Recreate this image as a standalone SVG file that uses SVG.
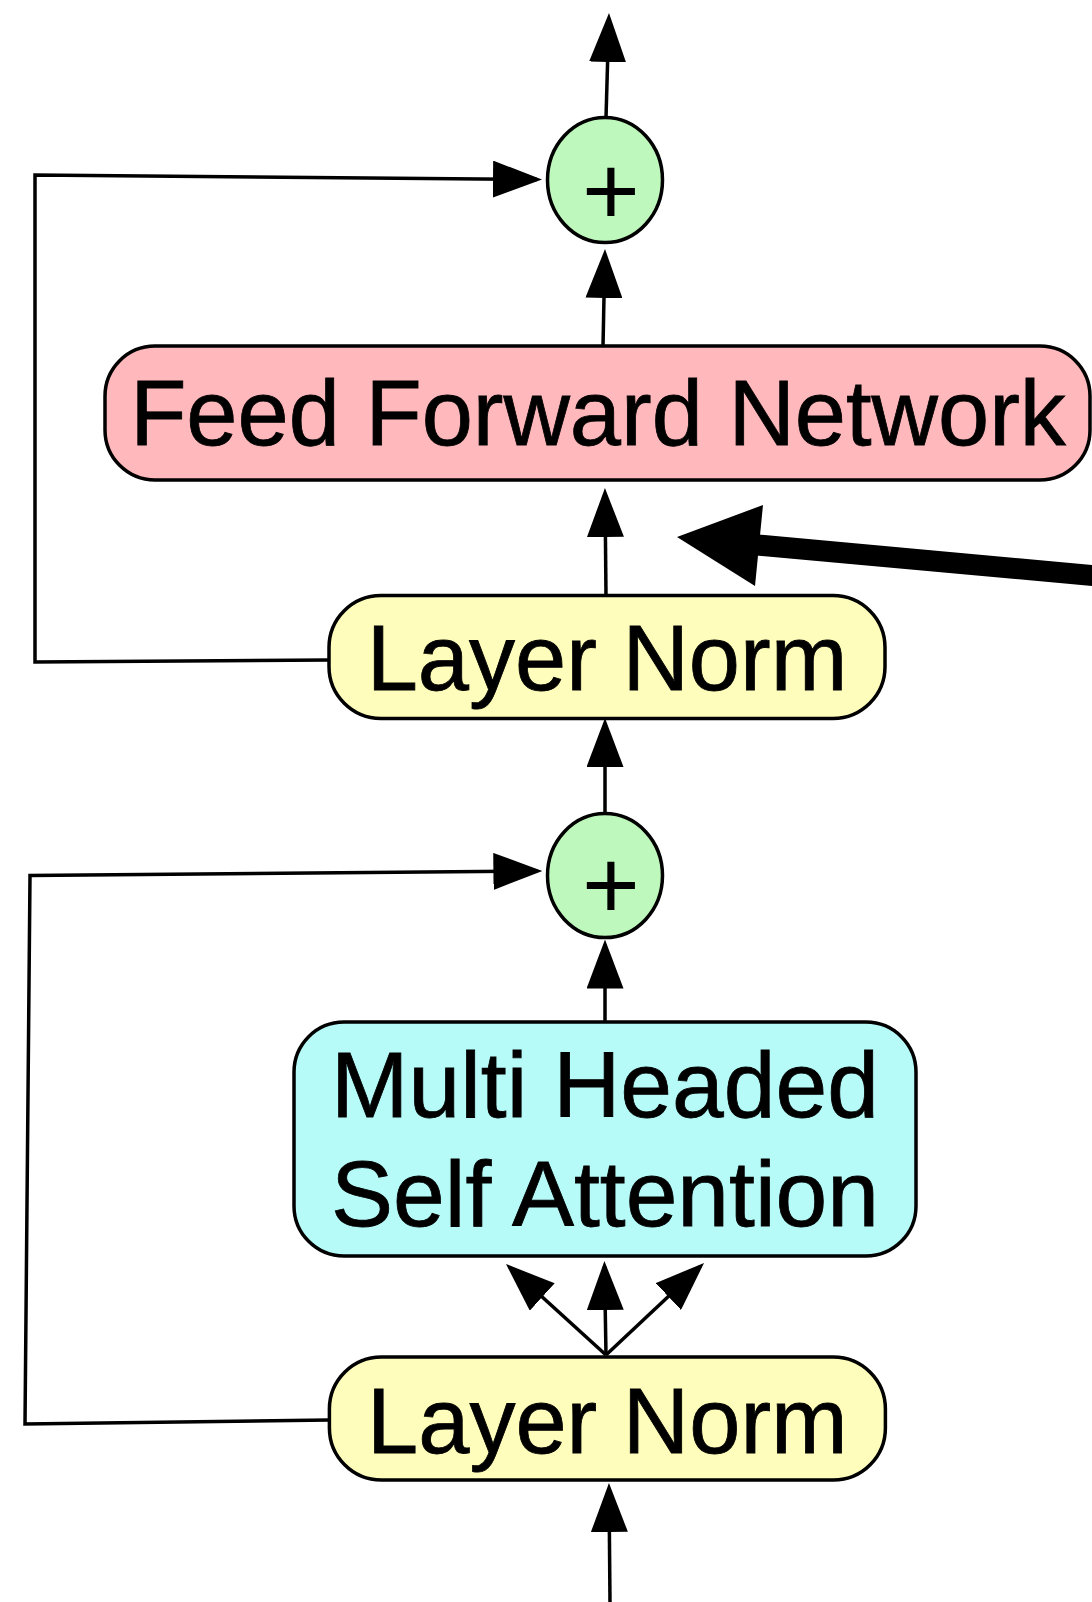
<svg xmlns="http://www.w3.org/2000/svg" width="1092" height="1602" viewBox="0 0 1092 1602">
<style>
.box{stroke:#000;stroke-width:3.5}
.ffn{fill:#FFB8BC}
.ln{fill:#FEFDBB}
.mhsa{fill:#B7FBF9}
.add{fill:#BFF8BC;stroke:#000;stroke-width:3.5}
.lbl{font-family:"Liberation Sans",Arial,Helvetica,sans-serif;font-size:92px;fill:#000;stroke:#000;stroke-width:0.8;text-anchor:middle}
.plus{font-family:"Liberation Sans",Arial,Helvetica,sans-serif;font-size:99px;fill:#000;text-anchor:middle}
.wire{fill:none;stroke:#000;stroke-width:3.5;marker-end:url(#ah)}
.loop{fill:none;stroke:#000;stroke-width:3.5;stroke-linejoin:miter;marker-end:url(#ah)}
</style>
<defs>
<marker id="ah" markerUnits="userSpaceOnUse" markerWidth="49" markerHeight="37" viewBox="0 0 49 37" refX="44" refY="18.5" orient="auto">
<path d="M0,0 L49,18.5 L0,37 Z" fill="#000"/>
</marker>
</defs>
<rect width="1092" height="1602" fill="#fff"/>
<g id="connectors">
<path class="wire" d="M606,118 L608.85,18"/>
<path class="wire" d="M603,346 L604.9,254"/>
<path class="wire" d="M606,595 L605,493"/>
<path class="wire" d="M605,813 L605,723"/>
<path class="wire" d="M605,1022 L605,944.5"/>
<path class="wire" d="M606,1355 L604.5,1266"/>
<path class="wire" d="M606,1355 L509.7,1267.4"/>
<path class="wire" d="M606,1355 L700.4,1266.4"/>
<path class="wire" d="M610,1602 L609,1488"/>
<path class="loop" d="M329,660 L35,662 L35,175 L537,179.5"/>
<path class="loop" d="M329,1420 L25,1424 L30,875.6 L537.4,871"/>
</g>
<g id="pointer">
<line x1="1100" y1="576.2" x2="752" y2="544.5" stroke="#000" stroke-width="21"/>
<polygon points="677,537 763,505 755,586" fill="#000"/>
</g>
<g id="add-top">
<ellipse class="add" cx="605" cy="180" rx="57.5" ry="62.5"/>
<text class="plus" x="611" y="225">+</text>
</g>
<g id="ffn">
<rect class="box ffn" x="105" y="346" width="985" height="134" rx="50" ry="50"/>
<text class="lbl" x="598" y="445">Feed Forward Network</text>
</g>
<g id="layernorm-top">
<rect class="box ln" x="329" y="595.5" width="556" height="123" rx="52" ry="52"/>
<text class="lbl" x="607" y="689.5">Layer Norm</text>
</g>
<g id="add-bottom">
<ellipse class="add" cx="605" cy="875.6" rx="57.5" ry="62"/>
<text class="plus" x="611" y="918.5">+</text>
</g>
<g id="mhsa">
<rect class="box mhsa" x="294" y="1022" width="622" height="234" rx="50" ry="50"/>
<text class="lbl" x="605" y="1117" style="font-size:93px">Multi Headed</text>
<text class="lbl" x="605" y="1226" style="font-size:93px">Self Attention</text>
</g>
<g id="layernorm-bottom">
<rect class="box ln" x="329.4" y="1357" width="556" height="123" rx="52" ry="52"/>
<text class="lbl" x="607.4" y="1453">Layer Norm</text>
</g>
</svg>
